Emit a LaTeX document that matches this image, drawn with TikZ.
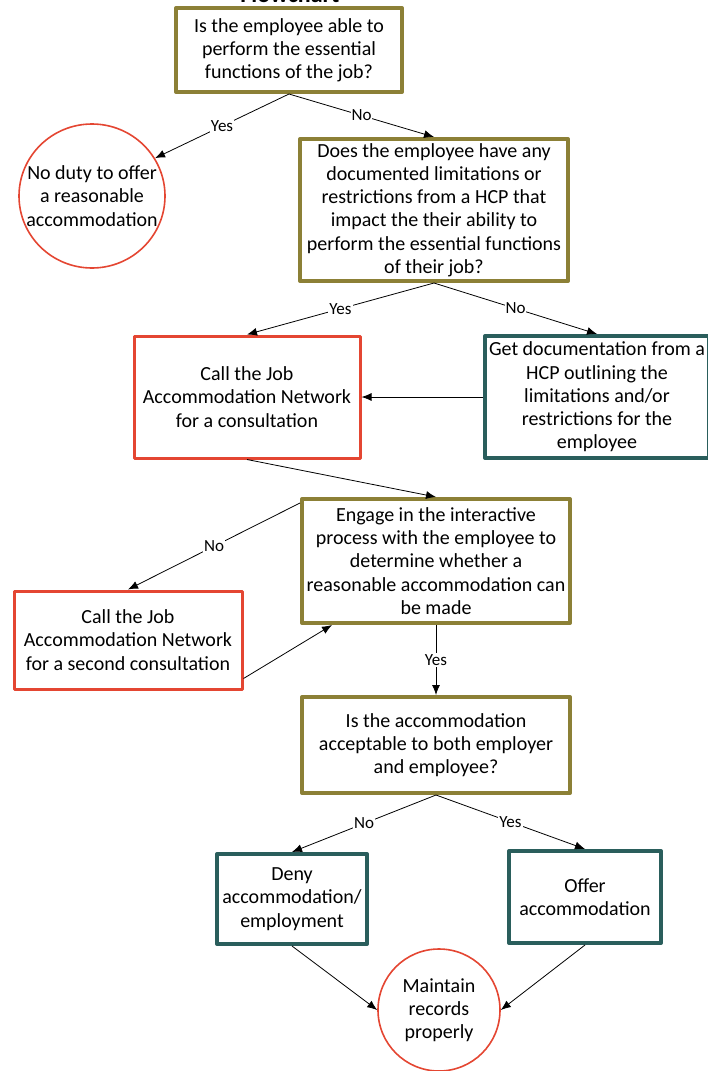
\documentclass[tikz,border=0pt]{standalone}
\usepackage{fontspec}
\setmainfont{Carlito}
\usetikzlibrary{arrows.meta,shapes.geometric}
\definecolor{olv}{RGB}{140,128,54}
\definecolor{tl}{RGB}{42,94,92}
\definecolor{rd}{RGB}{228,70,50}
\tikzset{
 box/.style={draw, fill=white, align=center, inner sep=1pt, font=\fontsize{10}{11.6}\selectfont},
 ask/.style={box, draw=olv, line width=2pt},
 act/.style={box, draw=tl, line width=2pt},
 call/.style={box, draw=rd, line width=1.5pt},
 endcirc/.style={ellipse, draw=rd, line width=0.8pt, inner sep=0pt},
 circtext/.style={align=center, font=\fontsize{10}{11.6}\selectfont},
 lab/.style={fill=white, inner sep=0.5pt, font=\fontsize{8.5}{9}\selectfont},
}
\begin{document}
\begin{tikzpicture}[x=0.5pt, y=-0.5pt, line join=round, >={Latex[length=5pt,width=4pt]}]
\useasboundingbox (0,0) rectangle (707,1071);
% title, cut at the top edge
\node[anchor=base, font=\bfseries\fontsize{12}{14}\selectfont] (title) at (290,2) {Flowchart};
\node[ask, minimum width=113pt, minimum height=42pt] (q1) at (289,50) {Is the employee able to\\perform the essential\\functions of the job?};
\node[endcirc, minimum width=73pt, minimum height=72pt, label={[circtext]center:No duty to offer\\a reasonable\\accommodation}] (noduty) at (92,196) {};
\node[ask, minimum width=134pt, minimum height=71pt] (q2) at (434,210) {Does the employee have any\\documented limitations or\\restrictions from a HCP that\\impact the their ability to\\perform the essential functions\\of their job?};
\node[call, minimum width=113pt, minimum height=61pt] (jan1) at (247,397) {Call the Job\\Accommodation Network\\for a consultation};
\node[act, minimum width=112pt, minimum height=61pt] (doc) at (597,397) {Get documentation from a\\HCP outlining the\\limitations and/or\\restrictions for the\\employee};
\node[ask, minimum width=134pt, minimum height=62pt] (engage) at (436,561) {Engage in the interactive\\process with the employee to\\determine whether a\\reasonable accommodation can\\be made};
\node[call, minimum width=114pt, minimum height=49pt] (jan2) at (128,640) {Call the Job\\Accommodation Network\\for a second consultation};
\node[ask, minimum width=134pt, minimum height=48pt] (q3) at (436,745) {Is the accommodation\\acceptable to both employer\\and employee?};
\node[act, minimum width=75pt, minimum height=45pt] (deny) at (292,899) {Deny\\accommodation/\\employment};
\node[act, minimum width=76pt, minimum height=46pt] (offer) at (585,897) {Offer\\accommodation};
\node[endcirc, minimum width=61pt, minimum height=61pt, label={[circtext]center:Maintain\\records\\properly}] (records) at (439,1010) {};
% connectors
\draw[->] (q1.south) -- node[lab]{Yes} (noduty.31);
\draw[->] (q1.south) -- node[lab]{No} (q2.north);
\draw[->] (q2.south) -- node[lab]{Yes} (jan1.north);
\draw[->] (q2.south) -- node[lab]{No} (doc.north);
\draw[->] (doc.west) -- (jan1.east);
\draw[->] (jan1.south) -- (engage.north);
\draw[->] ([yshift=-3pt]engage.north west) -- node[lab]{No} (jan2.north);
\draw[->] ([yshift=6pt]jan2.south east) -- ([xshift=16pt]engage.south west);
\draw[->] (engage.south) -- node[lab]{Yes} (q3.north);
\draw[->] (q3.south) -- node[lab]{No} (deny.north);
\draw[->] (q3.south) -- node[lab]{Yes} (offer.north);
\draw[->] (deny.south) -- (records.west);
\draw[->] (offer.south) -- (records.east);
\end{tikzpicture}
\end{document}
